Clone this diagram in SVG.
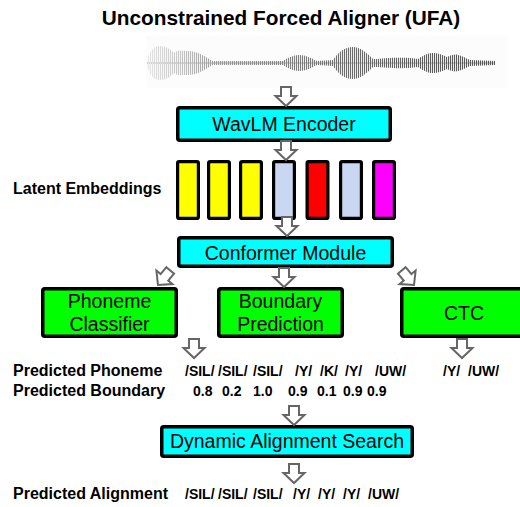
<svg xmlns="http://www.w3.org/2000/svg" xmlns:xlink="http://www.w3.org/1999/xlink" width="520" height="507" viewBox="0 0 520 507">
<style>
text{font-family:"Liberation Sans",Arial,Helvetica,sans-serif;fill:#000}
.title{font-size:20.8px;font-weight:bold}
.box{font-size:19.5px}
.lbl{font-size:16px;font-weight:bold}
.val{font-size:14px;font-weight:bold}
.cyan{fill:#00FFFF;stroke:#000;stroke-width:3.5}
.green{fill:#00FF00;stroke:#000;stroke-width:3.5}
.emb{stroke:#000;stroke-width:3.2}
</style>
<defs>
<pattern id="stripes" patternUnits="userSpaceOnUse" width="2" height="100">
<rect x="0" y="0" width="1.1" height="100" fill="#fff"/>
</pattern>
<linearGradient id="wg" x1="147" y1="0" x2="495" y2="0" gradientUnits="userSpaceOnUse">
<stop offset="0" stop-color="#e6e6e6"/>
<stop offset="0.1" stop-color="#c4c4c4"/>
<stop offset="0.2" stop-color="#999"/>
<stop offset="0.6" stop-color="#6a6a6a"/>
<stop offset="1" stop-color="#555"/>
</linearGradient>
<path id="env" d="M147,63 L147,61 C149,52 153,46 160,46 C167,46 171,50 174,53 C177,50 181,51 188,51 C198,51 205,57 213,61 L283,61 C290,56 296,55 300,55 C305,55 311,58 317,61 L333,60 C340,50 346,47 353,47 C360,47 366,52 373,59 L378,59 C386,58 405,57 418,59 C424,55 428,53 433,53 C438,53 443,55 447,57 C451,55 455,54 458,55 C463,56 467,59 470,60 L495,61 L495,63 Z"/>
<mask id="wm" maskUnits="userSpaceOnUse" x="140" y="30" width="370" height="70">
<g fill="url(#stripes)">
<use xlink:href="#env"/>
<use xlink:href="#env" transform="matrix(1 0 0 -1 0 126)"/>
</g>
</mask>
<path id="arr" d="M-5,-19H5V-10H10.5L0,0L-10.5,-10H-5Z" fill="#fff" stroke="#666" stroke-width="2"/>
</defs>

<rect x="0" y="0" width="520" height="507" fill="#fff"/>

<text class="title" x="281" y="25" text-anchor="middle">Unconstrained Forced Aligner (UFA)</text>

<g id="waveform">
<rect x="146" y="36" width="362" height="52" fill="#fcfcfc"/>
<line x1="147" y1="63" x2="495" y2="63" stroke="#999" stroke-width="0.8"/>
<rect x="146" y="40" width="352" height="46" fill="url(#wg)" mask="url(#wm)"/>
</g>

<g id="wavlm">
<rect class="cyan" x="177.75" y="107.75" width="212.5" height="32.5" rx="2"/>
<text class="box" x="284" y="131" text-anchor="middle">WavLM Encoder</text>
</g>

<g id="embeddings">
<text class="lbl" x="13" y="194">Latent Embeddings</text>
<rect class="emb" x="177.6" y="161.6" width="20.8" height="56.8" rx="1.5" fill="#FFFF00"/>
<rect class="emb" x="208.6" y="161.6" width="20.8" height="56.8" rx="1.5" fill="#FFFF00"/>
<rect class="emb" x="240.6" y="161.6" width="20.8" height="56.8" rx="1.5" fill="#FFFF00"/>
<rect class="emb" x="273.6" y="161.6" width="20.8" height="56.8" rx="1.5" fill="#C9D7F2"/>
<rect class="emb" x="307.1" y="161.6" width="20.8" height="56.8" rx="1.5" fill="#FF0000"/>
<rect class="emb" x="340.6" y="161.6" width="20.8" height="56.8" rx="1.5" fill="#C9D7F2"/>
<rect class="emb" x="373.6" y="161.6" width="20.8" height="56.8" rx="1.5" fill="#FF00FF"/>
</g>

<g id="conformer">
<rect class="cyan" x="178.75" y="237.75" width="213.5" height="28.5" rx="2"/>
<text class="box" x="285.5" y="260" text-anchor="middle">Conformer Module</text>
</g>

<g id="phoneme-classifier">
<rect class="green" x="42.75" y="288.75" width="133.5" height="47.5" rx="2"/>
<text class="box" x="109.5" y="307.5" text-anchor="middle">Phoneme</text>
<text class="box" x="109.5" y="331" text-anchor="middle">Classifier</text>
</g>

<g id="boundary-prediction">
<rect class="green" x="218.75" y="288.75" width="123.5" height="47.5" rx="2"/>
<text class="box" x="280.5" y="307.5" text-anchor="middle">Boundary</text>
<text class="box" x="280.5" y="331" text-anchor="middle">Prediction</text>
</g>

<g id="ctc">
<rect class="green" x="401.75" y="288.75" width="130" height="47.5" rx="2"/>
<text class="box" x="464" y="319.5" text-anchor="middle">CTC</text>
</g>

<g id="predictions">
<text class="lbl" x="13" y="376">Predicted Phoneme</text>
<text class="val" y="376"><tspan x="185">/SIL/</tspan><tspan x="218">/SIL/</tspan><tspan x="253">/SIL/</tspan><tspan x="295">/Y/</tspan><tspan x="320">/K/</tspan><tspan x="345">/Y/</tspan><tspan x="375">/UW/</tspan></text>
<text class="val" y="376"><tspan x="443">/Y/</tspan><tspan x="468">/UW/</tspan></text>
<text class="lbl" x="13" y="396">Predicted Boundary</text>
<text class="val" y="396"><tspan x="193">0.8</tspan><tspan x="222">0.2</tspan><tspan x="253">1.0</tspan><tspan x="288">0.9</tspan><tspan x="317">0.1</tspan><tspan x="343">0.9</tspan><tspan x="367">0.9</tspan></text>
</g>

<g id="dynamic-alignment-search">
<rect class="cyan" x="161.75" y="426.75" width="250.5" height="29.5" rx="2"/>
<text class="box" x="287" y="448" text-anchor="middle">Dynamic Alignment Search</text>
</g>

<g id="alignment">
<text class="lbl" x="13" y="499">Predicted Alignment</text>
<text class="val" y="499"><tspan x="185">/SIL/</tspan><tspan x="218">/SIL/</tspan><tspan x="253">/SIL/</tspan><tspan x="293">/Y/</tspan><tspan x="318">/Y/</tspan><tspan x="343">/Y/</tspan><tspan x="368">/UW/</tspan></text>
</g>

<g id="connectors">
<use xlink:href="#arr" transform="translate(286,106)"/>
<use xlink:href="#arr" transform="translate(286,160)"/>
<use xlink:href="#arr" transform="translate(287,236)"/>
<use xlink:href="#arr" transform="translate(158,285) rotate(40)"/>
<use xlink:href="#arr" transform="translate(284,287)"/>
<use xlink:href="#arr" transform="translate(414,285) rotate(-40)"/>
<use xlink:href="#arr" transform="translate(194,358)"/>
<use xlink:href="#arr" transform="translate(462,358)"/>
<use xlink:href="#arr" transform="translate(294,425)"/>
<use xlink:href="#arr" transform="translate(294,483)"/>
</g>
</svg>
